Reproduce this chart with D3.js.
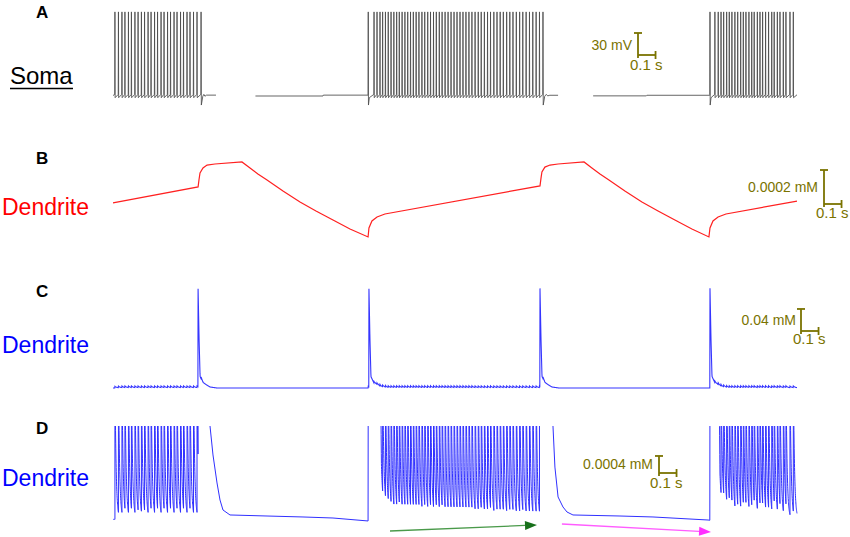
<!DOCTYPE html>
<html><head><meta charset="utf-8">
<script src="https://cdn.jsdelivr.net/npm/d3@7"></script>
<style>body{margin:0;background:#fff}svg{display:block;font-family:"Liberation Sans",Arial,sans-serif}</style>
</head><body><svg id="c" width="850" height="537"></svg>
<script>
// ---------------- DATA (time in ms) ----------------
const timeDomain = [0, 3899];

// Soma spike times for the three bursts
const somaBurst1 = [11,31,51,68,88,105,125,143,162,180,200,217,237,254,274,291,311,328,348,365,385,402,422,439,459,479,502];
const somaBurst2 = [1455,1488,1505,1522,1537,1553,1569,1585,1601,1617,1632,1648,1664,1680,1696,1712,1728,1744,1761,1777,1794,1810,1827,1843,1860,1876,1893,1910,1927,1944,1961,1978,1995,2012,2029,2046,2064,2082,2099,2117,2135,2152,2171,2189,2207,2225,2244,2262,2280,2299,2318,2336,2355,2374,2393,2412,2431,2451];
const somaBurst3 = [3403,3431,3450,3466,3481,3498,3513,3528,3545,3561,3578,3593,3608,3625,3641,3655,3673,3688,3703,3720,3737,3755,3769,3787,3802,3821,3836,3859,3878];

// Soma membrane potential (mV) between bursts: [time, mV]
const somaSeg1Before = [[0,-60]];
const somaSeg1After  = [[503.5,-73],[512,-61],[518,-58.5],[524,-61],[533,-59.5],[587,-59.5]];
const somaSeg2Before = [[812,-60.7],[1197,-60.7],[1199,-59.5],[1453.8,-59.5]];
const somaSeg2After  = [[2452.5,-73],[2461,-61],[2470,-58.5],[2478,-60.5],[2490,-59.7],[2537,-59.7]];
const somaSeg3Before = [[2737,-60.5],[3040,-60.5],[3043,-59.7],[3401.8,-59.7]];
const somaSeg3After  = [[3879.2,-63],[3899,-59]];
const somaPeak = 54, somaPre = -58.5, somaAhp = -63, somaAhpDeep = -73;

// Panel B: dendritic concentration (mM): [time, mM]
const bTrace = [
 [0,0.010218],[485,0.010312],[490,0.010353],[496,0.010394],[513,0.010424],[536,0.010441],[581,0.010447],[735,0.010459],
 [781,0.010424],[826,0.010388],[878,0.010353],[969,0.010288],[1066,0.010224],[1157,0.010171],[1254,0.010118],[1351,0.010065],[1454,0.010018],
 [1459,0.010071],[1476,0.010112],[1505,0.010135],[1550,0.010153],[2434,0.010318],
 [2440,0.010365],[2445,0.010400],[2462,0.010429],[2491,0.010441],[2537,0.010447],[2685,0.010459],
 [2730,0.010424],[2776,0.010388],[2827,0.010353],[2918,0.010288],[3015,0.010224],[3107,0.010171],[3203,0.010118],[3300,0.010065],[3397,0.010018],
 [3403,0.010071],[3420,0.010112],[3449,0.010135],[3494,0.010153],[3899,0.010229]
];

// Panel C: rest level, per-spike ripple, large transients
const cRest = 0.005, cRippleAmp = 0.003, cRippleTau = 12;
const cTransientTimes = [485, 1459, 2434, 3403];
const cProfileOffsets = [-1, 0, 5.7, 11.4, 28.5, 68, 108];
const cProfileAmps    = [0, 0.178, 0.087, 0.020, 0.009, 0.0018, 0];

// Panel D: oscillation peak / decay, trough envelopes and post-burst decays
const dPeak = 0.0045, dTau = 6.5;
const dTrough1 = [[0,0.00092],[485,0.00092]];
const dTrough2 = [[1455,0.0048],[1525,0.0036],[1530,0.0013],[1600,0.00098],[2434,0.00092]];
const dTrough3 = [[3403,0.0048],[3455,0.0036],[3460,0.0013],[3540,0.00098],[3899,0.00092]];
const dDecay1 = [[485,0.0045],[520,0.0042],[541.5,0.00337],[553,0.003115],[570,0.002434],[593,0.001776],[610,0.001376],[627,0.001141],[667,0.001024],[878,0.001],[1083,0.000977],[1254,0.000953],[1454,0.000883]];
const dDecay2 = [[2434,0.0045],[2480,0.0042],[2497,0.00337],[2508,0.003115],[2519,0.00215],[2537,0.001447],[2565,0.001212],[2588,0.001094],[2622,0.001024],[2890,0.001],[3078,0.000977],[3392,0.000906],[3402,0.0009]];
const dArrowUp   = [[1579,0.000647],[2417,0.000789]];
const dArrowDown = [[2559,0.000812],[3409,0.000624]];

// Scale bar values
const scaleTime = 100;        // ms
const scaleA = 30, scaleB = 0.0002, scaleC = 0.04, scaleD = 0.0004;

// ---------------- SCALES ----------------
const svg = d3.select("#c");
const x  = d3.scaleLinear().domain(timeDomain).range([113, 797]);
const yA = d3.scaleLinear().domain([-60, 54]).range([95.5, 11.9]);
const yB = d3.scaleLinear().domain([0.0100, 0.0105]).range([240, 155]);
const yC = d3.scaleLinear().domain([0.005, 0.183]).range([388, 290]);
const yD = d3.scaleLinear().domain([0.001, 0.003115]).range([516, 426]);

const olive = "#7a7300";

// ---------------- PANEL A ----------------
function somaSegment(before, spikes, deepFirst, after){
  const pts = before.slice();
  spikes.forEach((t,i)=>{
    pts.push([t-1.2, somaPre],[t, somaPeak]);
    if(i < spikes.length-1){
      if(i===0 && deepFirst){ pts.push([t+1.2, somaAhpDeep],[t+6, somaAhp]); }
      else pts.push([t+1.2, somaAhp]);
    }
  });
  return pts.concat(after);
}
const lineA = d3.line().x(d=>x(d[0])).y(d=>yA(d[1]));
[
  somaSegment(somaSeg1Before, somaBurst1, false, somaSeg1After),
  somaSegment(somaSeg2Before, somaBurst2, true, somaSeg2After),
  somaSegment(somaSeg3Before, somaBurst3, true, somaSeg3After)
].forEach(seg=>{
  svg.append("path").attr("d", lineA(seg)).attr("fill","none").attr("stroke","#4a4a4a").attr("stroke-width",0.85);
});

// ---------------- PANEL B ----------------
svg.append("path").attr("d", d3.line().x(d=>x(d[0])).y(d=>yB(d[1]))(bTrace))
  .attr("fill","none").attr("stroke","#ff2020").attr("stroke-width",1.2);

// ---------------- PANEL C ----------------
const allSpikes = somaBurst1.concat(somaBurst2, somaBurst3);
const cProfile = d3.scaleLinear().domain(cProfileOffsets).range(cProfileAmps).clamp(true);
const cPts = [];
for(let t=timeDomain[0]; t<=timeDomain[1]; t+=1){
  let v = cRest;
  for(const s of allSpikes){ if(s<=t && t-s<120) v += cRippleAmp*Math.exp(-(t-s)/cRippleTau); }
  for(const e of cTransientTimes){ const dt=t-e; if(dt>=-1 && dt<=108) v += cProfile(dt); }
  cPts.push([t,v]);
}
svg.append("path").attr("d", d3.line().x(d=>x(d[0])).y(d=>yC(d[1]))(cPts))
  .attr("fill","none").attr("stroke","#3535ff").attr("stroke-width",1.1);

// ---------------- PANEL D ----------------
function dOsc(spikes, troughPts, t0, t1){
  const tr = d3.scaleLinear().domain(troughPts.map(d=>d[0])).range(troughPts.map(d=>d[1])).clamp(true);
  const inW = spikes.filter(s=>s>=t0 && s<t1);
  let times = d3.range(t0, t1, 0.5);
  inW.forEach(s=>{ times.push(s, s-0.01); });
  times = times.filter(t=>t>=t0 && t<t1).sort((a,b)=>a-b);
  return times.map(t=>{
    const last = d3.max(inW.filter(s=>s<=t));
    const base = tr(t);
    const v = last===undefined ? base : base + (dPeak-base)*Math.exp(-(t-last)/dTau);
    return [t, v];
  });
}
const dPts = [].concat(
  dOsc(somaBurst1, dTrough1, 0, 485),
  dDecay1,
  dOsc(somaBurst2, dTrough2, 1455, 2434),
  dDecay2,
  dOsc(somaBurst3, dTrough3, 3403, 3899.5)
);
svg.append("clipPath").attr("id","clipD").append("rect").attr("x",100).attr("y",yD(0.003115)).attr("width",720).attr("height",120);
svg.append("path").attr("d", d3.line().x(d=>x(d[0])).y(d=>yD(d[1]))(dPts))
  .attr("clip-path","url(#clipD)")
  .attr("fill","none").attr("stroke","#3030ff").attr("stroke-width",1);

function arrow(pts, lineCol, headCol){
  const [x1,y1] = [x(pts[0][0]), yD(pts[0][1])];
  const [x2,y2] = [x(pts[1][0]), yD(pts[1][1])];
  const ang = Math.atan2(y2-y1, x2-x1), L = 12, Wd = 4.5;
  const bx = x2 - L*Math.cos(ang), by = y2 - L*Math.sin(ang);
  svg.append("line").attr("x1",x1).attr("y1",y1).attr("x2",bx).attr("y2",by)
    .attr("stroke",lineCol).attr("stroke-width",1.3);
  const px = -Math.sin(ang)*Wd, py = Math.cos(ang)*Wd;
  svg.append("polygon").attr("points",[[x2,y2],[bx+px,by+py],[bx-px,by-py]].map(p=>p.join(",")).join(" "))
    .attr("fill",headCol);
}
arrow(dArrowUp, "#4a9a4a", "#17701a");
arrow(dArrowDown, "#ff5cff", "#ff30ff");

// ---------------- SCALE BARS ----------------
function scaleBar(x0, yb, yScale, val, base, lbl, lblX, lblY, tX, tY){
  const vLen = yScale(base) - yScale(base + val);
  const hLen = x(scaleTime) - x(0);
  const g = svg.append("g").attr("stroke", olive).attr("stroke-width",1.8).attr("fill","none");
  g.append("line").attr("x1",x0).attr("x2",x0).attr("y1",yb-vLen).attr("y2",yb+3);
  g.append("line").attr("x1",x0-4).attr("x2",x0+4).attr("y1",yb-vLen).attr("y2",yb-vLen);
  g.append("line").attr("x1",x0).attr("x2",x0+hLen).attr("y1",yb).attr("y2",yb);
  g.append("line").attr("x1",x0+hLen).attr("x2",x0+hLen).attr("y1",yb-4).attr("y2",yb+4);
  svg.append("text").attr("x",lblX).attr("y",lblY).attr("text-anchor","end")
    .attr("font-size",14).attr("fill",olive).text(lbl);
  svg.append("text").attr("x",tX).attr("y",tY).attr("font-size",15).attr("fill",olive).text("0.1 s");
}
scaleBar(638, 55, yA, scaleA, -60, "30 mV", 632, 50, 630, 70);
scaleBar(824, 204, yB, scaleB, 0.0100, "0.0002 mM", 818, 192, 816, 218);
scaleBar(801, 331, yC, scaleC, 0.005, "0.04 mM", 796, 325, 793, 344);
scaleBar(659, 473, yD, scaleD, 0.001, "0.0004 mM", 653, 469, 650, 488);

// ---------------- LABELS ----------------
const panels = [["A",17.5],["B",163.5],["C",297],["D",433.5]];
panels.forEach(([t,yy])=>svg.append("text").attr("x",36).attr("y",yy).attr("font-size",17).attr("font-weight","bold").attr("fill","#000").text(t));
svg.append("text").attr("x",10).attr("y",84).attr("font-size",24).attr("fill","#000").text("Soma");
svg.append("line").attr("x1",10).attr("x2",73).attr("y1",88.5).attr("y2",88.5).attr("stroke","#000").attr("stroke-width",1.5);
svg.append("text").attr("x",2).attr("y",215).attr("font-size",23).attr("fill","#ff0000").text("Dendrite");
svg.append("text").attr("x",2).attr("y",353).attr("font-size",23).attr("fill","#0000ff").text("Dendrite");
svg.append("text").attr("x",2).attr("y",486).attr("font-size",23).attr("fill","#0000ff").text("Dendrite");
</script></body></html>
